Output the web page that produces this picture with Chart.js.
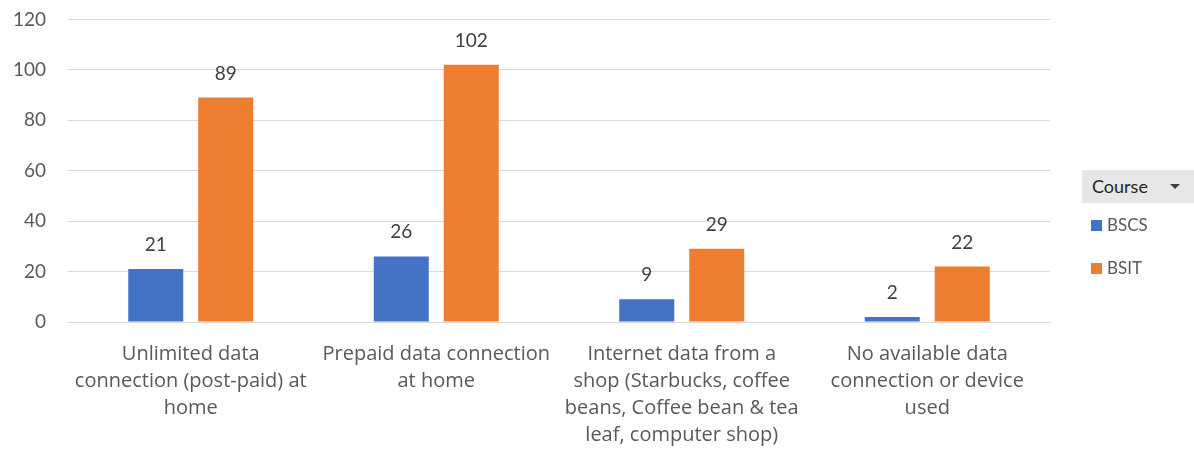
<!DOCTYPE html>
<html>
<head>
<meta charset="utf-8">
<script src="https://cdn.jsdelivr.net/npm/chart.js@4.4.1/dist/chart.umd.min.js"></script>
<style>
  html, body { margin: 0; padding: 0; background: #fff; overflow: hidden; }
  #wrap { position: relative; width: 1194px; height: 450px; overflow: hidden; }
  #chart { position: absolute; left: 0; top: -14px; }
  #legend { position: absolute; left: 1082px; top: 170px; width: 112px; font-family: Lato, sans-serif; color: #595959; }
  #legend .head { background: #e7e7e7; height: 33px; line-height: 33px; font-size: 18px; color: #262626; padding-left: 10px; position: relative; }
  #legend .head .arrow { position: absolute; right: 14px; top: 14px; width: 0; height: 0; border-left: 5px solid transparent; border-right: 5px solid transparent; border-top: 5px solid #404040; }
  #legend .item { font-size: 17px; height: 43px; line-height: 43px; padding-left: 9px; }
  #legend .sw { display: inline-block; width: 11px; height: 11px; margin-right: 5px; }
</style>
</head>
<body>
<div id="wrap">
  <canvas id="chart" width="1194" height="464"></canvas>
  <div id="legend"></div>
</div>
<script>
const categories = [
  ['Unlimited data', 'connection (post-paid) at', 'home'],
  ['Prepaid data connection', 'at home'],
  ['Internet data from a', 'shop (Starbucks, coffee', 'beans, Coffee bean & tea', 'leaf, computer shop)'],
  ['No available data', 'connection or device', 'used']
];
const seriesNames = ['BSCS', 'BSIT'];
const bscsValues = [21, 26, 9, 2];
const bsitValues = [89, 102, 29, 22];
const seriesColors = ['#4472C4', '#ED7D31'];
const legendTitle = 'Course';

const numFont = 'Lato, sans-serif';
const labelFont = '"Open Sans", sans-serif';

// value labels above each bar
const barValues = {
  id: 'barValues',
  afterDatasetsDraw(chart) {
    const ctx = chart.ctx;
    ctx.save();
    ctx.font = '19px ' + numFont;
    ctx.fillStyle = '#404040';
    ctx.textAlign = 'center';
    ctx.textBaseline = 'alphabetic';
    chart.data.datasets.forEach((ds, i) => {
      chart.getDatasetMeta(i).data.forEach((bar, j) => {
        ctx.fillText(ds.data[j], bar.x, bar.y - 18);
      });
    });
    ctx.restore();
  }
};

new Chart(document.getElementById('chart'), {
  type: 'bar',
  data: {
    labels: categories,
    datasets: [
      { label: seriesNames[0], data: bscsValues, backgroundColor: seriesColors[0] },
      { label: seriesNames[1], data: bsitValues, backgroundColor: seriesColors[1] }
    ]
  },
  options: {
    responsive: false,
    animation: false,
    layout: { padding: { top: 0, right: 144, left: 0, bottom: 0 } },
    datasets: { bar: { categoryPercentage: 0.57, barPercentage: 0.786 } },
    plugins: { legend: { display: false }, tooltip: { enabled: false } },
    scales: {
      x: {
        grid: { display: false },
        border: { display: true, color: '#d9d9d9' },
        ticks: { color: '#595959', font: { family: labelFont, size: 20, lineHeight: 1.35 }, padding: 11, maxRotation: 0, autoSkip: false },
        afterFit(scale) { scale.height = 128; }
      },
      y: {
        min: 0, max: 120,
        grid: { color: '#d9d9d9', drawTicks: false },
        border: { display: false },
        ticks: { stepSize: 20, color: '#595959', font: { family: numFont, size: 19 }, padding: 22 },
        afterFit(scale) { scale.width = 68; }
      }
    }
  },
  plugins: [barValues]
});

// pivot-style legend on the right
const legend = document.getElementById('legend');
let html = '<div class="head">' + legendTitle + '<span class="arrow"></span></div>';
seriesNames.forEach((name, i) => {
  html += '<div class="item"><span class="sw" style="background:' + seriesColors[i] + '"></span>' + name + '</div>';
});
legend.innerHTML = html;
</script>
</body>
</html>
